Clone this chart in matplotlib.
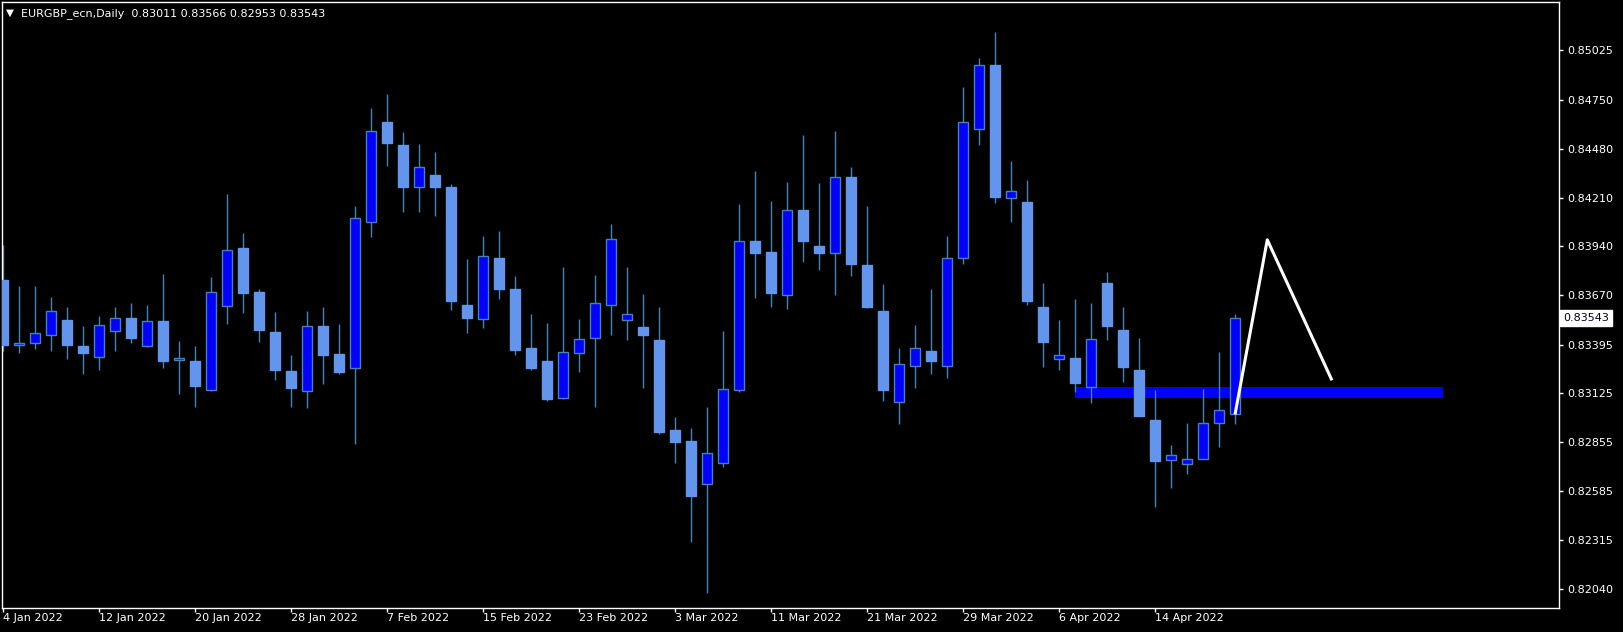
import matplotlib.pyplot as plt
from matplotlib.transforms import blended_transform_factory

# EURGBP daily candles, 4 Jan 2022 .. 21 Apr 2022 (weekdays)
opens = [0.83752, 0.83391, 0.83402, 0.83451, 0.83529, 0.83389, 0.83326, 0.83473, 0.83540, 0.83386,
         0.83525, 0.83310, 0.83304, 0.83143, 0.83607, 0.83931, 0.83688, 0.83464, 0.83250, 0.83138,
         0.83496, 0.83344, 0.83266, 0.84074, 0.84628, 0.84500, 0.84266, 0.84335, 0.84268, 0.83614,
         0.83536, 0.83875, 0.83703, 0.83377, 0.83304, 0.83098, 0.83346, 0.83429, 0.83612, 0.83529,
         0.83493, 0.83420, 0.82922, 0.82862, 0.82623, 0.82737, 0.83145, 0.83969, 0.83906, 0.83672,
         0.84143, 0.83942, 0.83904, 0.84322, 0.83837, 0.83581, 0.83076, 0.83279, 0.83360, 0.83279,
         0.83877, 0.84592, 0.84945, 0.84210, 0.84186, 0.83603, 0.83313, 0.83322, 0.83159, 0.83737,
         0.83476, 0.83255, 0.82978, 0.82754, 0.82732, 0.82759, 0.82960, 0.83011]
highs = [0.83947, 0.83719, 0.83719, 0.83659, 0.83603, 0.83500, 0.83552, 0.83603, 0.83625, 0.83614,
         0.83786, 0.83413, 0.83389, 0.83768, 0.84228, 0.84014, 0.83701, 0.83578, 0.83339, 0.83581,
         0.83603, 0.83511, 0.84165, 0.84706, 0.84784, 0.84574, 0.84507, 0.84462, 0.84284, 0.83869,
         0.83996, 0.84025, 0.83775, 0.83565, 0.83516, 0.83826, 0.83538, 0.83781, 0.84063, 0.83826,
         0.83677, 0.83603, 0.82993, 0.82931, 0.83049, 0.83471, 0.84174, 0.84357, 0.84190, 0.84295,
         0.84556, 0.84291, 0.84579, 0.84380, 0.84163, 0.83730, 0.83377, 0.83505, 0.83701, 0.83996,
         0.84822, 0.84983, 0.85128, 0.84413, 0.84306, 0.83737, 0.83531, 0.83648, 0.83625, 0.83797,
         0.83603, 0.83431, 0.83143, 0.82839, 0.82962, 0.83150, 0.83355, 0.83566]
lows = [0.83357, 0.83346, 0.83373, 0.83362, 0.83317, 0.83234, 0.83255, 0.83357, 0.83402, 0.83380,
        0.83266, 0.83123, 0.83049, 0.83138, 0.83507, 0.83572, 0.83411, 0.83201, 0.83049, 0.83042,
        0.83176, 0.83234, 0.82842, 0.83994, 0.84382, 0.84128, 0.84128, 0.84105, 0.83589, 0.83462,
        0.83489, 0.83650, 0.83335, 0.83255, 0.83080, 0.83094, 0.83246, 0.83051, 0.83451, 0.83418,
        0.83156, 0.82902, 0.82741, 0.82299, 0.82018, 0.82719, 0.83134, 0.83656, 0.83601, 0.83592,
        0.83853, 0.83810, 0.83668, 0.83773, 0.83596, 0.83080, 0.82955, 0.83156, 0.83234, 0.83212,
        0.83840, 0.84500, 0.84181, 0.84076, 0.83612, 0.83272, 0.83252, 0.83134, 0.83069, 0.83422,
        0.83190, 0.82998, 0.82493, 0.82598, 0.82681, 0.82759, 0.82826, 0.82953]
closes = [0.83395, 0.83402, 0.83458, 0.83581, 0.83391, 0.83346, 0.83502, 0.83540, 0.83433, 0.83525,
          0.83306, 0.83322, 0.83165, 0.83685, 0.83922, 0.83683, 0.83478, 0.83255, 0.83156, 0.83496,
          0.83339, 0.83241, 0.84099, 0.84576, 0.84512, 0.84266, 0.84378, 0.84266, 0.83639, 0.83545,
          0.83884, 0.83701, 0.83368, 0.83264, 0.83096, 0.83353, 0.83424, 0.83625, 0.83978, 0.83567,
          0.83451, 0.82913, 0.82857, 0.82554, 0.82792, 0.83147, 0.83967, 0.83904, 0.83679, 0.84143,
          0.83971, 0.83904, 0.84322, 0.83844, 0.83601, 0.83141, 0.83286, 0.83375, 0.83306, 0.83877,
          0.84628, 0.84942, 0.84215, 0.84244, 0.83639, 0.83411, 0.83337, 0.83185, 0.83424, 0.83496,
          0.83272, 0.83002, 0.82752, 0.82781, 0.82761, 0.82960, 0.83031, 0.83543]

date_labels = ["4 Jan 2022", "12 Jan 2022", "20 Jan 2022", "28 Jan 2022", "7 Feb 2022",
               "15 Feb 2022", "23 Feb 2022", "3 Mar 2022", "11 Mar 2022", "21 Mar 2022",
               "29 Mar 2022", "6 Apr 2022", "14 Apr 2022"]
price_ticks = [0.85025, 0.84750, 0.84480, 0.84210, 0.83940, 0.83670, 0.83395,
               0.83125, 0.82855, 0.82585, 0.82315, 0.82040]

# drawn objects: support zone and projected zigzag
zone_x = [67, 90]
zone_low, zone_high = 0.83100, 0.83161
zigzag_x = [77, 79, 83]
zigzag_y = [0.83016, 0.83976, 0.83205]

BULL = "#0000FF"
BEAR = "#6495ED"
WICK = "#4682B4"

fig = plt.figure(figsize=(16.23, 6.32), dpi=100, facecolor="black")
ax = fig.add_axes([2.3 / 1623, 24.2 / 632, (1559.3 - 2.3) / 1623, (607.8 - 2.4) / 632])
ax.set_facecolor("black")

x = list(range(len(opens)))
ax.fill_between(zone_x, zone_low, zone_high, color=BULL, lw=0, zorder=1)

ax.vlines(x, lows, highs, color=WICK, lw=1, zorder=2)
for i in x:
    o, c = opens[i], closes[i]
    up = c >= o
    ax.bar(i, abs(c - o), bottom=min(o, c), width=0.64,
           color=BULL if up else BEAR, edgecolor=WICK if up else BEAR,
           linewidth=1, zorder=3)

ax.plot(zigzag_x, zigzag_y, color="white", lw=2.2, zorder=4)

ax.set_xlim(-0.06, 97.25)
ax.set_ylim(0.81937, 0.85291)

for s in ax.spines.values():
    s.set_color("white")
    s.set_linewidth(1)

ax.yaxis.tick_right()
ax.set_yticks(price_ticks)
ax.set_yticklabels([f"{p:.5f}" for p in price_ticks])
ax.tick_params(axis="y", colors="white", direction="out", length=3, width=1,
               pad=2.5, labelsize=8)

ax.set_xticks(range(0, 6 * len(date_labels), 6))
ax.set_xticklabels(date_labels, ha="left")
ax.tick_params(axis="x", colors="white", direction="out", length=3, width=1,
               pad=1, labelsize=8)

# current price marker
tr = blended_transform_factory(ax.transAxes, ax.transData)
ax.text(1.0025, closes[-1], f"{closes[-1]:.5f}", transform=tr, ha="left", va="center",
        fontsize=8, color="#000022",
        bbox=dict(boxstyle="square,pad=0.25", facecolor="white", edgecolor="white"),
        clip_on=False)

# header
fig.text(5.5 / 1623, 1 - 15.5 / 632, "\u25bc", color="white", fontsize=7.5, va="baseline")
fig.text(21 / 1623, 1 - 16 / 632,
         f"EURGBP_ecn,Daily  {opens[-1]:.5f} {highs[-1]:.5f} {lows[-1]:.5f} {closes[-1]:.5f}",
         color="white", fontsize=8, va="baseline")

fig.savefig("out.png", dpi=100, facecolor="black")
